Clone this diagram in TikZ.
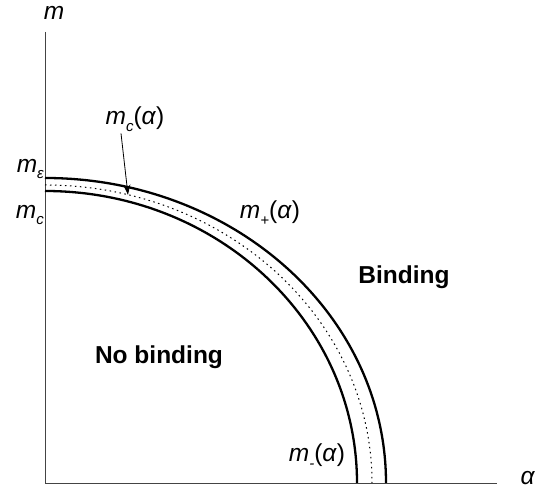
\documentclass[tikz,border=0pt]{standalone}
\usepackage{fontspec}
\setmainfont{Liberation Sans}
\usetikzlibrary{arrows.meta,positioning}
\definecolor{axisgray}{HTML}{444444}
\newcommand{\msub}[1]{\textit{m}\raisebox{-0.5ex}{\fontsize{15}{15}\selectfont\itshape #1}}

\begin{document}
\begin{tikzpicture}[x=1pt,y=1pt,
    axisline/.style={draw=axisgray,line width=0.9pt},
    boundary/.style={line width=2.3pt},
    lbl/.style={font=\fontsize{24.5}{28}\selectfont,inner sep=0pt},
    region/.style={font=\fontsize{24.5}{28}\selectfont\bfseries,inner sep=0pt}]
    \useasboundingbox (-45,-6) rectangle (491,483);
    % axes
    \coordinate (o) at (0,0);
    \coordinate (ytop) at (0,451);
    \coordinate (xend) at (452,0);
    \draw[axisline] (ytop)--(o)--(xend);
    \node[lbl] (mlab) at (9,470) {\textit{m}};
    \node[lbl] (alab) at (483,5) {\textit{α}};
    % critical curves
    \draw[boundary] (0,305) arc[start angle=90,end angle=0,x radius=341,y radius=305];
    \draw[boundary] (0,292) arc[start angle=90,end angle=0,x radius=312,y radius=292];
    \draw[dash pattern=on 1.5pt off 3.5pt,line width=1pt] (0,298) arc[start angle=90,end angle=0,x radius=327,y radius=298];
    % labels
    \node[lbl,anchor=east] (meps) at (-1,314) {\msub{ε}};
    \node[lbl,anchor=east] (mc) at (-1,268) {\msub{c}};
    \node[lbl] (mclab) at (90,364) {\msub{c}(\textit{α})};
    \node[lbl] (mplus) at (225,270) {\msub{+}(\textit{α})};
    \node[lbl] (mminus) at (272,27) {\msub{-}(\textit{α})};
    \node[region] (bind) at (359,206) {Binding};
    \node[region] (nobind) at (114,126) {No binding};
    % pointer to dotted curve
    \coordinate (mcstart) at ([xshift=-14pt,yshift=-2pt]mclab.south);
    \coordinate (mctip) at (75.3:327pt and 298pt);
    \draw[-{Stealth[length=10pt,width=7pt]},line width=0.8pt] (mcstart)--(mctip);
  \end{tikzpicture}
\end{document}
